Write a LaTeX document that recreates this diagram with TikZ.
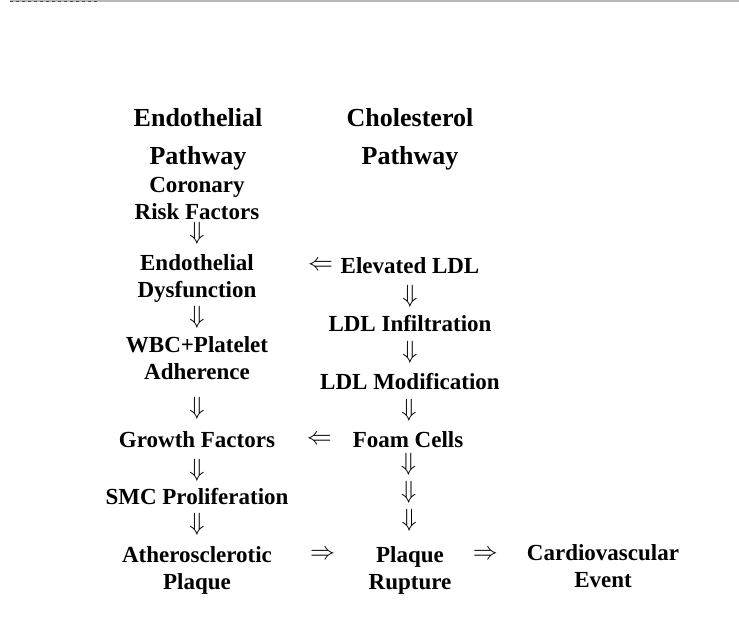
\documentclass[tikz,border=0pt]{standalone}
\usepackage{fontspec}
\setmainfont{Liberation Serif}
\begin{document}
\begin{tikzpicture}[x=1pt,y=-1pt,
    head/.style={align=center,inner sep=0pt,font=\fontsize{26}{38}\selectfont\bfseries},
    stage/.style={align=center,inner sep=0pt,font=\fontsize{23}{27}\selectfont\bfseries},
    darr/.style={inner sep=0pt,font=\fontsize{24}{24}\selectfont}]
    \useasboundingbox (0,0) rectangle (739,644);
    % rule at the top
    \draw[gray!55,line width=1.2pt] (10,1) -- (739,1);
    \draw[black!70,dashed,line width=0.8pt] (10,1.5) -- (100,1.5);
    % headings
    \node[head] (eph) at (198,139) {Endothelial\\Pathway};
    \node[head] (cph) at (410,139) {Cholesterol\\Pathway};
    % endothelial pathway
    \node[stage] (crf) at (197,198) {Coronary\\Risk Factors};
    \node[stage] (ed) at (197,279) {Endothelial\\Dysfunction};
    \node[stage] (wbc) at (197,358) {WBC+Platelet\\Adherence};
    \node[stage] (gf) at (197,440) {Growth Factors};
    \node[stage] (smc) at (197,497) {SMC Proliferation};
    \node[stage] (ap) at (197,570) {Atherosclerotic\\Plaque};
    % cholesterol pathway
    \node[stage] (ldl) at (410,266) {Elevated LDL};
    \node[stage] (inf) at (410,324) {LDL Infiltration};
    \node[stage] (mod) at (410,382) {LDL Modification};
    \node[stage] (foam) at (408,440) {Foam Cells};
    \node[stage] (pr) at (410,570) {Plaque\\Rupture};
    \node[stage] (cve) at (603,566) {Cardiovascular\\Event};
    % arrows down
    \path (crf.center) -- (ed.center) node[darr,pos=.44] (d1) {$\Downarrow$};
    \path (ed.center) -- (wbc.center) node[darr,pos=.49] (d2) {$\Downarrow$};
    \path (wbc.center) -- (gf.center) node[darr,pos=.61] (d3) {$\Downarrow$};
    \path (gf.center) -- (smc.center) node[darr,pos=.53] (d4) {$\Downarrow$};
    \path (smc.center) -- (ap.center) node[darr,pos=.38] (d5) {$\Downarrow$};
    \path (ldl.center) -- (inf.center) node[darr,pos=.52] (d6) {$\Downarrow$};
    \path (inf.center) -- (mod.center) node[darr,pos=.48] (d7) {$\Downarrow$};
    \path (mod.center) -- (foam.center) node[darr,pos=.48] (d8) {$\Downarrow$};
    \path (foam.center) -- (pr.center) node[darr,pos=.19] (d9) {$\Downarrow$}
        node[darr,pos=.40] (d10) {$\Downarrow$}
        node[darr,pos=.62] (d11) {$\Downarrow$};
    % arrows across
    \path (ldl.center) -- (ldl.center -| ed.center) node[darr,pos=.42] (l1) {$\Leftarrow$};
    \path (foam.center) -- (foam.center -| gf.center) node[darr,pos=.42] (l2) {$\Leftarrow$};
    \path (ap.center) -- (pr.center) node[darr,pos=.59,yshift=15pt] (r1) {$\Rightarrow$};
    \path (pr.center) -- (pr.center -| cve.center) node[darr,pos=.39,yshift=15pt] (r2) {$\Rightarrow$};
\end{tikzpicture}
\end{document}
